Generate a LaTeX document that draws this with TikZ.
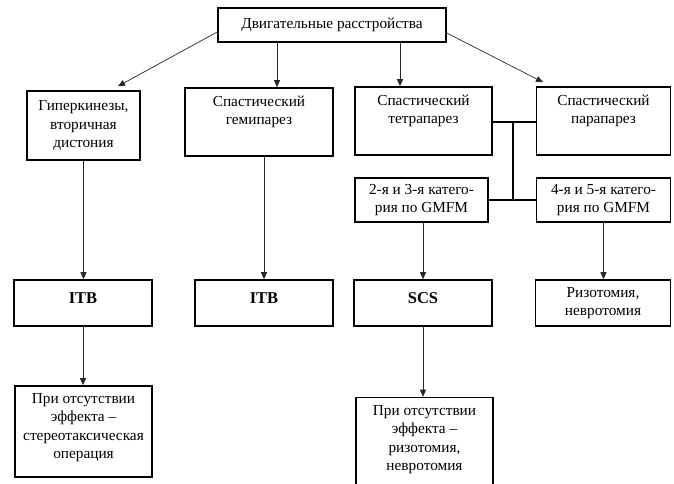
\documentclass[tikz,border=0pt]{standalone}
\usepackage{fontspec}
\setmainfont{Liberation Serif}
\usetikzlibrary{arrows.meta}
\tikzset{
  box/.style={draw=black, line width=1.6pt, align=center, inner sep=2pt,
    font=\fontsize{15.3}{18.3}\selectfont},
  boldbox/.style={box, font=\fontsize{16.5}{18}\selectfont\bfseries, text depth=10pt},
  arr/.style={line width=0.7pt, draw=black!85, -{Triangle[length=7pt,width=6pt]}},
  link/.style={line width=1.8pt, draw=black}
}
\begin{document}
\begin{tikzpicture}[x=1pt,y=-1pt]
\useasboundingbox (0,0) rectangle (674,483);
% top
\node[box, minimum width=228pt, minimum height=34pt] (top) at (332,25) {Двигательные расстройства};
% second row
\node[box, minimum width=113pt, minimum height=69pt] (hyp) at (83.5,125.5) {Гиперкинезы,\\вторичная\\дистония};
\node[box, minimum width=148pt, minimum height=68pt] (hemi) at (259,122) {Спастический\\гемипарез\\\strut};
\node[box, minimum width=137pt, minimum height=68pt] (tetra) at (423.5,121) {Спастический\\тетрапарез\\\strut};
\node[box, minimum width=134pt, minimum height=68pt] (para) at (603.5,121) {Спастический\\парапарез\\\strut};
% third row
\node[box, minimum width=133pt, minimum height=44pt] (gm23) at (421.5,200) {2-я и 3-я катего-\\рия по GMFM};
\node[box, minimum width=134pt, minimum height=44pt] (gm45) at (603.5,200) {4-я и 5-я катего-\\рия по GMFM};
% fourth row
\node[boldbox, minimum width=138pt, minimum height=46pt] (itbA) at (83,303) {ITB};
\node[boldbox, minimum width=138pt, minimum height=46pt] (itbB) at (264,303) {ITB};
\node[boldbox, minimum width=138pt, minimum height=46pt] (scs) at (423,303) {SCS};
\node[box, minimum width=135pt, minimum height=46pt] (rizo) at (603,303) {Ризотомия,\\невротомия};
% bottom row
\node[box, minimum width=137pt, minimum height=91pt] (stereo) at (83.5,431.5) {При отсутствии\\эффекта –\\стереотаксическая\\операция\\[-7pt]};
\node[box, minimum width=137pt, minimum height=92pt] (rizo2) at (424.5,443.5) {При отсутствии\\эффекта –\\ризотомия,\\невротомия\\[-7pt]};
% arrows from top
\draw[arr] ([yshift=-7pt]top.west) -- ([xshift=34.5pt,yshift=4pt]hyp.north);
\draw[arr] ([xshift=-55pt]top.south) -- ([xshift=18pt]hemi.north);
\draw[arr] ([xshift=68pt]top.south) -- ([xshift=-23.5pt]tetra.north);
\draw[arr] ([yshift=-8pt]top.east) -- ([xshift=-60.5pt,yshift=4pt]para.north);
% links
\coordinate (jt) at (513,122);
\coordinate (jb) at (513,200);
\draw[link] ([yshift=-1pt]tetra.east) -- ([yshift=-1pt]para.west);
\draw[link] (jt) -- (jb);
\draw[link] (gm23.east) -- (gm45.west);
% downward arrows
\draw[arr] (hyp.south) -- (hyp.south |- itbA.north);
\draw[arr] (itbB.north |- hemi.south) -- (itbB.north);
\draw[arr] (scs.north |- gm23.south) -- (scs.north);
\draw[arr] (gm45.south) -- (gm45.south |- rizo.north);
\draw[arr] (itbA.south) -- (itbA.south |- stereo.north);
\draw[arr] (scs.south) -- (scs.south |- rizo2.north);
\end{tikzpicture}
\end{document}
